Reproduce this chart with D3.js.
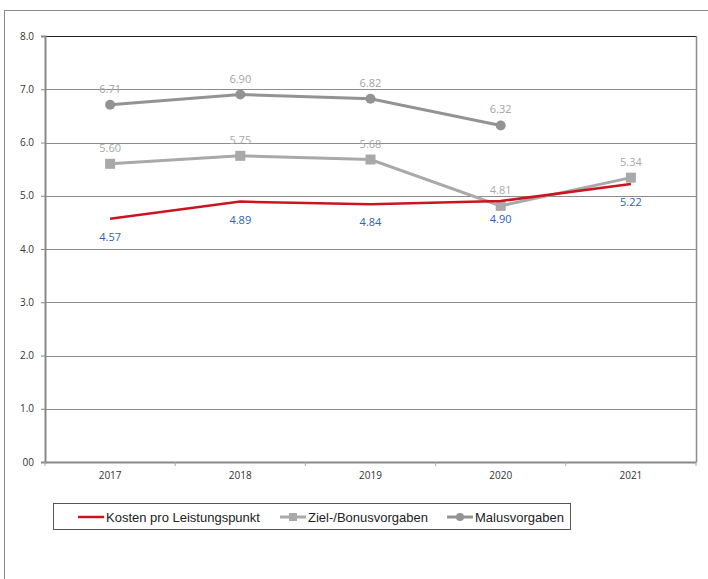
<!DOCTYPE html>
<html>
<head>
<meta charset="utf-8">
<script src="https://cdn.jsdelivr.net/npm/d3@7/dist/d3.min.js"></script>
<style>
  body { margin: 0; background: #fff; }
  .tick-text { font-family: "Open Sans", sans-serif; font-size: 10px; fill: #333; }
  .val { font-family: "Open Sans", sans-serif; font-size: 11px; }
  .legend-text { font-family: "Liberation Sans", Arial, sans-serif; font-size: 13px; fill: #222; }
</style>
</head>
<body>
<div class="chart"></div>
<script>
var w = 708;
var h = 579;

// data
var years = ["2017", "2018", "2019", "2020", "2021"];
var kosten = [4.57, 4.89, 4.84, 4.90, 5.22];
var ziel = [5.60, 5.75, 5.68, 4.81, 5.34];
var malus = [6.71, 6.90, 6.82, 6.32, null];
var yTicks = [0, 1, 2, 3, 4, 5, 6, 7, 8];
var yTickLabels = ["00", "1.0", "2.0", "3.0", "4.0", "5.0", "6.0", "7.0", "8.0"];
var seriesNames = ["Kosten pro Leistungspunkt", "Ziel-/Bonusvorgaben", "Malusvorgaben"];

var plotLeft = 45, plotRight = 696, plotTop = 36, plotBottom = 462;

var svg = d3.select(".chart")
  .append("svg")
  .attr("width", w)
  .attr("height", h);

// outer frame
svg.append("rect")
  .attr("x", 4.5).attr("y", 10.5)
  .attr("width", 720).attr("height", 600)
  .attr("fill", "none")
  .attr("stroke", "#8a8a8a")
  .attr("stroke-width", 1);

var xScale = d3.scaleBand()
  .domain(years)
  .range([plotLeft, plotRight]);

var yScale = d3.scaleLinear()
  .domain([0, 8])
  .range([plotBottom, plotTop]);

// gridlines
svg.selectAll(".grid")
  .data(yTicks.slice(1))
  .enter()
  .append("line")
  .attr("x1", plotLeft).attr("x2", plotRight)
  .attr("y1", function(d) { return Math.round(yScale(d)) + 0.5; })
  .attr("y2", function(d) { return Math.round(yScale(d)) + 0.5; })
  .attr("stroke", function(d) { return d === 8 ? "#222" : "#8c8c8c"; })
  .attr("stroke-width", 1);

// right border
svg.append("line")
  .attr("x1", plotRight + 0.5).attr("x2", plotRight + 0.5)
  .attr("y1", plotTop).attr("y2", plotBottom)
  .attr("stroke", "#8c8c8c").attr("stroke-width", 1.5);

// y axis
var yAxis = d3.axisLeft(yScale)
  .tickValues(yTicks)
  .tickSize(4)
  .tickPadding(7)
  .tickFormat(function(d, i) { return yTickLabels[i]; });

var gy = svg.append("g")
  .attr("transform", "translate(" + plotLeft + ",0)")
  .call(yAxis);
gy.select(".domain").attr("stroke", "#888").attr("stroke-width", 2);
gy.selectAll(".tick line").attr("stroke", "#888");
gy.selectAll("text").attr("class", "tick-text");

// x axis
var xAxis = d3.axisBottom(xScale).tickSize(0).tickPadding(10);
var gx = svg.append("g")
  .attr("transform", "translate(0," + plotBottom + ")")
  .call(xAxis);
gx.select(".domain").attr("stroke", "#888").attr("stroke-width", 2);
gx.selectAll("text").attr("class", "tick-text");

// x tick marks at band edges
svg.selectAll(".xtick")
  .data(years.concat(["end"]))
  .enter()
  .append("line")
  .attr("x1", function(d, i) { return plotLeft + i * xScale.bandwidth(); })
  .attr("x2", function(d, i) { return plotLeft + i * xScale.bandwidth(); })
  .attr("y1", plotBottom).attr("y2", plotBottom + 4)
  .attr("stroke", "#aaa").attr("stroke-width", 1);

var cx = function(d, i) { return xScale(years[i]) + xScale.bandwidth() / 2; };

var line = d3.line()
  .defined(function(d) { return d !== null; })
  .x(cx)
  .y(function(d) { return yScale(d); });

// Malus
svg.append("path")
  .datum(malus)
  .attr("d", line)
  .attr("fill", "none")
  .attr("stroke", "#939393")
  .attr("stroke-width", 3);
svg.selectAll(".malus-dot")
  .data(malus)
  .enter()
  .filter(function(d) { return d !== null; })
  .append("circle")
  .attr("cx", cx)
  .attr("cy", function(d) { return yScale(d); })
  .attr("r", 5)
  .attr("fill", "#939393");

// Ziel
svg.append("path")
  .datum(ziel)
  .attr("d", line)
  .attr("fill", "none")
  .attr("stroke", "#a9a9a9")
  .attr("stroke-width", 3);
svg.selectAll(".ziel-dot")
  .data(ziel)
  .enter()
  .append("rect")
  .attr("x", function(d, i) { return cx(d, i) - 5; })
  .attr("y", function(d) { return yScale(d) - 5; })
  .attr("width", 10).attr("height", 10)
  .attr("fill", "#a9a9a9");

// Kosten
svg.append("path")
  .datum(kosten)
  .attr("d", line)
  .attr("fill", "none")
  .attr("stroke", "#cc1420")
  .attr("stroke-width", 2.5);

// labels
function labels(data, dy, color) {
  svg.selectAll(null)
    .data(data)
    .enter()
    .filter(function(d) { return d !== null; })
    .append("text")
    .attr("class", "val")
    .attr("x", cx)
    .attr("y", function(d) { return yScale(d) + dy; })
    .attr("text-anchor", "middle")
    .attr("fill", color)
    .text(function(d) { return d.toFixed(2); });
}
labels(malus, -12, "#a3a3a3");
labels(ziel, -12, "#a8a8a8");
labels(kosten, 22, "#2e62b0");

// legend
var lg = svg.append("g");
lg.append("rect")
  .attr("x", 53.5).attr("y", 503.5)
  .attr("width", 517).attr("height", 26)
  .attr("fill", "#fff")
  .attr("stroke", "#555").attr("stroke-width", 1);

var legendX = [78, 280, 447];
var legendColors = ["#cc1420", "#a9a9a9", "#939393"];
var ly = 517;
seriesNames.forEach(function(name, i) {
  lg.append("line")
    .attr("x1", legendX[i]).attr("x2", legendX[i] + 26)
    .attr("y1", ly).attr("y2", ly)
    .attr("stroke", legendColors[i])
    .attr("stroke-width", i === 0 ? 2.5 : 3);
  if (i === 1) {
    lg.append("rect")
      .attr("x", legendX[i] + 9).attr("y", ly - 4)
      .attr("width", 8).attr("height", 8)
      .attr("fill", legendColors[i]);
  }
  if (i === 2) {
    lg.append("circle")
      .attr("cx", legendX[i] + 13).attr("cy", ly)
      .attr("r", 4)
      .attr("fill", legendColors[i]);
  }
  lg.append("text")
    .attr("class", "legend-text")
    .attr("x", legendX[i] + 28)
    .attr("y", ly)
    .attr("dy", "0.35em")
    .text(name);
});
</script>
</body>
</html>
